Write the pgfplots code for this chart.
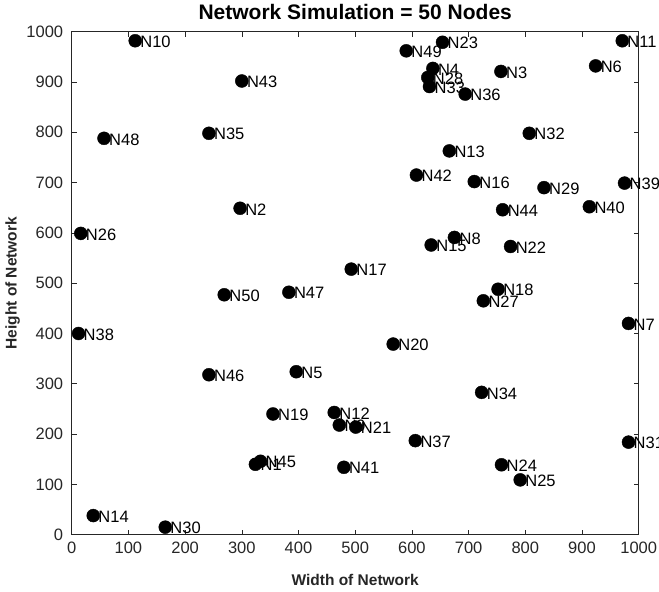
\documentclass[border=0pt]{standalone}
\usepackage{fontspec}
\setmainfont{Liberation Sans}
\usepackage{pgfplots}
\pgfplotsset{compat=1.18}
\definecolor{axgray}{RGB}{38,38,38}
\pgfplotsset{nd/.style={only marks, mark=*, mark size=6.5pt, black, mark options={draw=black, fill=black}}}
\begin{document}
\begin{tikzpicture}
\begin{axis}[
  scale only axis, width=567pt, height=503pt,
  xmin=0, xmax=1000, ymin=0, ymax=1000,
  xtick={0,100,...,1000}, ytick={0,100,...,1000},
  tick align=inside, major tick length=5pt,
  axis line style={axgray, line width=0.6pt},
  every tick/.style={axgray, line width=0.6pt},
  ticklabel style={font=\fontsize{16.5}{16.5}\selectfont, text=axgray},
  xticklabel style={yshift=-4pt},
  yticklabel style={xshift=-5pt},
  /pgf/number format/assume math mode=true,
  /pgf/number format/set thousands separator={},
  title={Network Simulation = 50 Nodes},
  title style={font=\bfseries\fontsize{21}{21}\selectfont, at={(0.5,1)}, anchor=center, yshift=14pt},
  xlabel={Width of Network}, ylabel={Height of Network},
  label style={font=\bfseries\fontsize{15.5}{15.5}\selectfont, text=axgray},
  xlabel style={at={(axis description cs:0.5,0)}, anchor=center, yshift=-45pt},
  ylabel style={at={(axis description cs:-0.104,0.5)}, anchor=center},
  clip=false,
  nodes near coords, point meta=explicit symbolic,
  nodes near coords style={anchor=west, inner sep=0pt, xshift=5pt, yshift=-1pt, font=\fontsize{16.5}{16.5}\selectfont, text=black},
]
\addplot[nd] coordinates {(324,140) [N1]};
\addplot[nd] coordinates {(297,649) [N2]};
\addplot[nd] coordinates {(757,921) [N3]};
\addplot[nd] coordinates {(637,927) [N4]};
\addplot[nd] coordinates {(396,324) [N5]};
\addplot[nd] coordinates {(924,932) [N6]};
\addplot[nd] coordinates {(982,420) [N7]};
\addplot[nd] coordinates {(675,591) [N8]};
\addplot[nd] coordinates {(472,218) [N9]};
\addplot[nd] coordinates {(112,982) [N10]};
\addplot[nd] coordinates {(971,982) [N11]};
\addplot[nd] coordinates {(463,243) [N12]};
\addplot[nd] coordinates {(666,763) [N13]};
\addplot[nd] coordinates {(38,38) [N14]};
\addplot[nd] coordinates {(634,576) [N15]};
\addplot[nd] coordinates {(710,702) [N16]};
\addplot[nd] coordinates {(493,528) [N17]};
\addplot[nd] coordinates {(752,488) [N18]};
\addplot[nd] coordinates {(355,240) [N19]};
\addplot[nd] coordinates {(567,379) [N20]};
\addplot[nd] coordinates {(501,214) [N21]};
\addplot[nd] coordinates {(774,573) [N22]};
\addplot[nd] coordinates {(654,979) [N23]};
\addplot[nd] coordinates {(758,139) [N24]};
\addplot[nd] coordinates {(791,109) [N25]};
\addplot[nd] coordinates {(16,599) [N26]};
\addplot[nd] coordinates {(726,465) [N27]};
\addplot[nd] coordinates {(628,909) [N28]};
\addplot[nd] coordinates {(833,690) [N29]};
\addplot[nd] coordinates {(165,15) [N30]};
\addplot[nd] coordinates {(982,184) [N31]};
\addplot[nd] coordinates {(807,798) [N32]};
\addplot[nd] coordinates {(631,891) [N33]};
\addplot[nd] coordinates {(723,283) [N34]};
\addplot[nd] coordinates {(242,798) [N35]};
\addplot[nd] coordinates {(694,876) [N36]};
\addplot[nd] coordinates {(606,187) [N37]};
\addplot[nd] coordinates {(12,400) [N38]};
\addplot[nd] coordinates {(975,699) [N39]};
\addplot[nd] coordinates {(913,652) [N40]};
\addplot[nd] coordinates {(480,134) [N41]};
\addplot[nd] coordinates {(608,715) [N42]};
\addplot[nd] coordinates {(300,902) [N43]};
\addplot[nd] coordinates {(760,646) [N44]};
\addplot[nd] coordinates {(333,146) [N45]};
\addplot[nd] coordinates {(242,318) [N46]};
\addplot[nd] coordinates {(383,482) [N47]};
\addplot[nd] coordinates {(57,788) [N48]};
\addplot[nd] coordinates {(590,962) [N49]};
\addplot[nd] coordinates {(269,477) [N50]};
\end{axis}
\pgfresetboundingbox
\path[use as bounding box] (-71.7pt,-57.3pt) rectangle (587.3pt,534.7pt);
\end{tikzpicture}
\end{document}
